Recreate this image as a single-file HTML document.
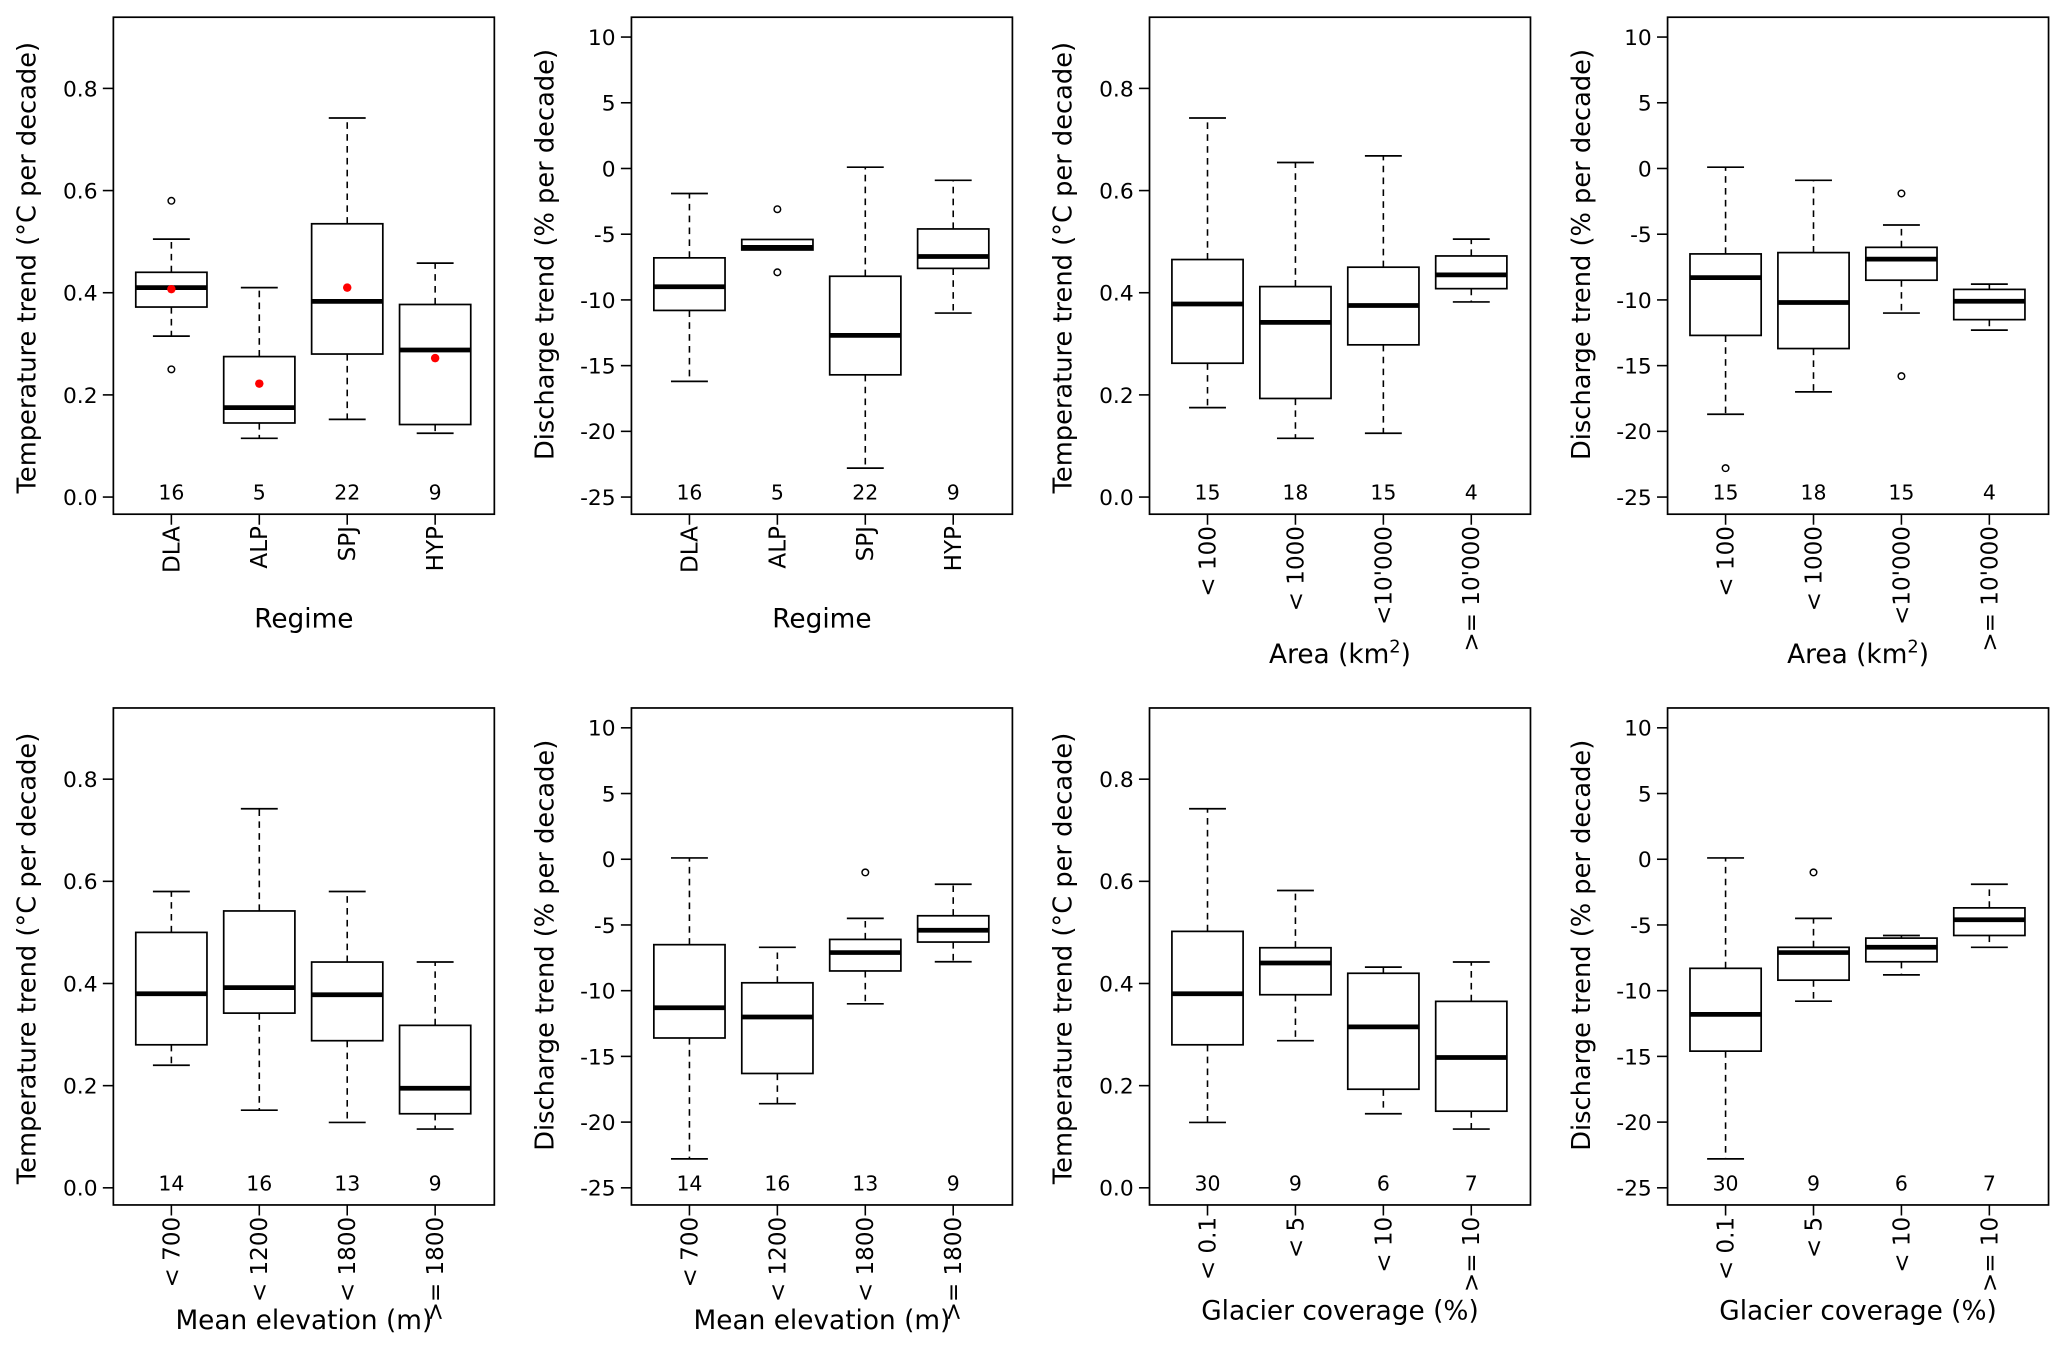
<!DOCTYPE html>
<html><head><meta charset="utf-8"><style>
html,body{margin:0;padding:0;background:#fff}
svg{display:block}
text{font-family:"DejaVu Sans","Liberation Sans",sans-serif;fill:#000}
</style></head><body>
<svg id="fig" width="2067" height="1354" viewBox="0 0 1568 1027" xmlns="http://www.w3.org/2000/svg"></svg>
<script>
// ---- data ----
const regimeCats = ["DLA","ALP","SPJ","HYP"];
const areaCats = ["< 100","< 1000","<10'000",">= 10'000"];
const elevCats = ["< 700","< 1200","< 1800",">= 1800"];
const glacCats = ["< 0.1","< 5","< 10",">= 10"];
const regimeCounts = [16,5,22,9];
const areaCounts = [15,18,15,4];
const elevCounts = [14,16,13,9];
const glacCounts = [30,9,6,7];
const tempTicks = [0.0,0.2,0.4,0.6,0.8];
const tempTickLabels = ["0.0","0.2","0.4","0.6","0.8"];
const dischTicks = [-25,-20,-15,-10,-5,0,5,10];
const dischTickLabels = ["-25","-20","-15","-10","-5","0","5","10"];
// five-number summaries: [lo, q1, median, q3, hi]
const regimeTemp = [[0.315,0.372,0.41,0.44,0.505],[0.115,0.145,0.175,0.275,0.41],[0.152,0.28,0.383,0.535,0.742],[0.125,0.142,0.288,0.377,0.458]];
const regimeTempOut = [[0.58,0.25],[],[],[]];
const regimeTempMean = [0.407,0.222,0.41,0.272];
const regimeDisch = [[-16.2,-10.8,-9.0,-6.8,-1.9],[-6.2,-6.2,-6.0,-5.4,-5.4],[-22.8,-15.7,-12.7,-8.2,0.1],[-11.0,-7.6,-6.7,-4.6,-0.9]];
const regimeDischOut = [[],[-3.1,-7.9],[],[]];
const areaTemp = [[0.175,0.262,0.378,0.465,0.742],[0.115,0.193,0.342,0.412,0.655],[0.125,0.298,0.375,0.45,0.668],[0.382,0.408,0.435,0.472,0.505]];
const areaTempOut = [[],[],[],[]];
const areaDisch = [[-18.7,-12.7,-8.3,-6.5,0.1],[-17.0,-13.7,-10.2,-6.4,-0.9],[-11.0,-8.5,-6.9,-6.0,-4.3],[-12.3,-11.5,-10.1,-9.2,-8.8]];
const areaDischOut = [[-22.8],[],[-1.9,-15.8],[]];
const elevTemp = [[0.24,0.28,0.38,0.5,0.58],[0.152,0.342,0.392,0.542,0.742],[0.128,0.288,0.378,0.442,0.58],[0.115,0.145,0.195,0.318,0.442]];
const elevTempOut = [[],[],[],[]];
const elevDisch = [[-22.8,-13.6,-11.3,-6.5,0.1],[-18.6,-16.3,-12.0,-9.4,-6.7],[-11.0,-8.5,-7.1,-6.1,-4.5],[-7.8,-6.3,-5.4,-4.3,-1.9]];
const elevDischOut = [[],[],[-1.0],[]];
const glacTemp = [[0.128,0.28,0.38,0.502,0.742],[0.288,0.378,0.44,0.47,0.582],[0.145,0.193,0.315,0.42,0.432],[0.115,0.15,0.255,0.365,0.442]];
const glacTempOut = [[],[],[],[]];
const glacDisch = [[-22.8,-14.6,-11.8,-8.3,0.1],[-10.8,-9.2,-7.1,-6.7,-4.5],[-8.8,-7.8,-6.7,-6.0,-5.8],[-6.7,-5.8,-4.6,-3.7,-1.9]];
const glacDischOut = [[],[-1.0],[],[]];

const NS="http://www.w3.org/2000/svg";
const svg=document.getElementById('fig');
function mk(tag,attrs,parent){const e=document.createElementNS(NS,tag);for(const k in attrs)e.setAttribute(k,attrs[k]);(parent||svg).appendChild(e);return e;}

function panel(o){
  const g=mk('g',{});
  
  
  const L=o.x, R=o.x+289, T=o.y, B=o.y+377;
  const temp=o.kind==='temp';
  const yScale=temp?(v=>B-13-v*387.5):(v=>B-13-(v+25)*9.97);
  const xs=i=>L+44+i*66.7;
  const frame=mk('rect',{x:L,y:T,width:R-L,height:B-T,fill:'none',stroke:'#000','stroke-width':1.3},g);
  
  
  const ticks=temp?tempTicks:dischTicks, tl=temp?tempTickLabels:dischTickLabels;
  ticks.forEach((t,i)=>{
    const yy=yScale(t);
    const ln=mk('line',{x1:L-8,x2:L,y1:yy,y2:yy,stroke:'#000','stroke-width':1.2},g);
    
    
    const tx=mk('text',{x:L-12,y:yy+6,'text-anchor':'end','font-size':16.5},g);
    tx.textContent=tl[i];
    
    
  });
  const yt=mk('text',{x:0,y:0,'text-anchor':'middle','font-size':19.5,transform:`translate(${L-59},${temp?T+190:T+180}) rotate(-90)`},g);
  yt.textContent=temp?'Temperature trend (°C per decade)':'Discharge trend (% per decade)';
  
  
  o.stats.forEach((s,i)=>{
    const cx=xs(i);
    const bg=mk('g',{},g);
    
    
    const [lo,q1,md,q3,hi]=s.map(yScale);
    if(lo-q1>0.5){mk('line',{x1:cx,x2:cx,y1:q1,y2:lo,stroke:'#000','stroke-width':1.2,'stroke-dasharray':'5,4'},bg);
      mk('line',{x1:cx-14,x2:cx+14,y1:lo,y2:lo,stroke:'#000','stroke-width':1.3},bg);}
    if(q3-hi>0.5){mk('line',{x1:cx,x2:cx,y1:q3,y2:hi,stroke:'#000','stroke-width':1.2,'stroke-dasharray':'5,4'},bg);
      mk('line',{x1:cx-14,x2:cx+14,y1:hi,y2:hi,stroke:'#000','stroke-width':1.3},bg);}
    mk('rect',{x:cx-27,y:q3,width:54,height:Math.max(q1-q3,0.5),fill:'#fff',stroke:'#000','stroke-width':1.3},bg);
    mk('line',{x1:cx-27,x2:cx+27,y1:md,y2:md,stroke:'#000','stroke-width':3.6},bg);
    (o.out[i]||[]).forEach(v=>{
      const c=mk('circle',{cx:cx,cy:yScale(v),r:2.5,fill:'none',stroke:'#000','stroke-width':1.1},bg);
      
      
    });
    if(o.mean){const m=mk('circle',{cx:cx,cy:yScale(o.mean[i]),r:3.2,fill:'#f00'},bg);
      
      }
    const ct=mk('text',{x:cx,y:B-11,'text-anchor':'middle','font-size':15.5},g);
    ct.textContent=o.counts[i];
    
    
    const tk=mk('line',{x1:cx,x2:cx,y1:B,y2:B+8,stroke:'#000','stroke-width':1.2},g);
    
    
    const xl=mk('text',{x:0,y:0,'text-anchor':'end','font-size':17.5,transform:`translate(${cx+6},${B+9}) rotate(-90)`},g);
    xl.textContent=o.cats[i];
    
    
  });
  const xt=mk('text',{x:(L+R)/2,y:o.titleY,'text-anchor':'middle','font-size':20},g);
  if(o.title==='area'){xt.textContent='Area (km';const sp=mk('tspan',{dy:-8,'font-size':13.5},xt);sp.textContent='2';const sp2=mk('tspan',{dy:8},xt);sp2.textContent=')';}
  else xt.textContent=o.title;
  
  
}
const X=[86,479,872,1265], Y=[13,537];
panel({name:'panel-regime-temperature',x:X[0],y:Y[0],kind:'temp',stats:regimeTemp,out:regimeTempOut,mean:regimeTempMean,counts:regimeCounts,cats:regimeCats,title:'Regime',titleY:476});
panel({name:'panel-regime-discharge',x:X[1],y:Y[0],kind:'disch',stats:regimeDisch,out:regimeDischOut,counts:regimeCounts,cats:regimeCats,title:'Regime',titleY:476});
panel({name:'panel-area-temperature',x:X[2],y:Y[0],kind:'temp',stats:areaTemp,out:areaTempOut,counts:areaCounts,cats:areaCats,title:'area',titleY:503});
panel({name:'panel-area-discharge',x:X[3],y:Y[0],kind:'disch',stats:areaDisch,out:areaDischOut,counts:areaCounts,cats:areaCats,title:'area',titleY:503});
panel({name:'panel-elevation-temperature',x:X[0],y:Y[1],kind:'temp',stats:elevTemp,out:elevTempOut,counts:elevCounts,cats:elevCats,title:'Mean elevation (m)',titleY:1008});
panel({name:'panel-elevation-discharge',x:X[1],y:Y[1],kind:'disch',stats:elevDisch,out:elevDischOut,counts:elevCounts,cats:elevCats,title:'Mean elevation (m)',titleY:1008});
panel({name:'panel-glacier-temperature',x:X[2],y:Y[1],kind:'temp',stats:glacTemp,out:glacTempOut,counts:glacCounts,cats:glacCats,title:'Glacier coverage (%)',titleY:1001});
panel({name:'panel-glacier-discharge',x:X[3],y:Y[1],kind:'disch',stats:glacDisch,out:glacDischOut,counts:glacCounts,cats:glacCats,title:'Glacier coverage (%)',titleY:1001});
</script>
</body></html>
